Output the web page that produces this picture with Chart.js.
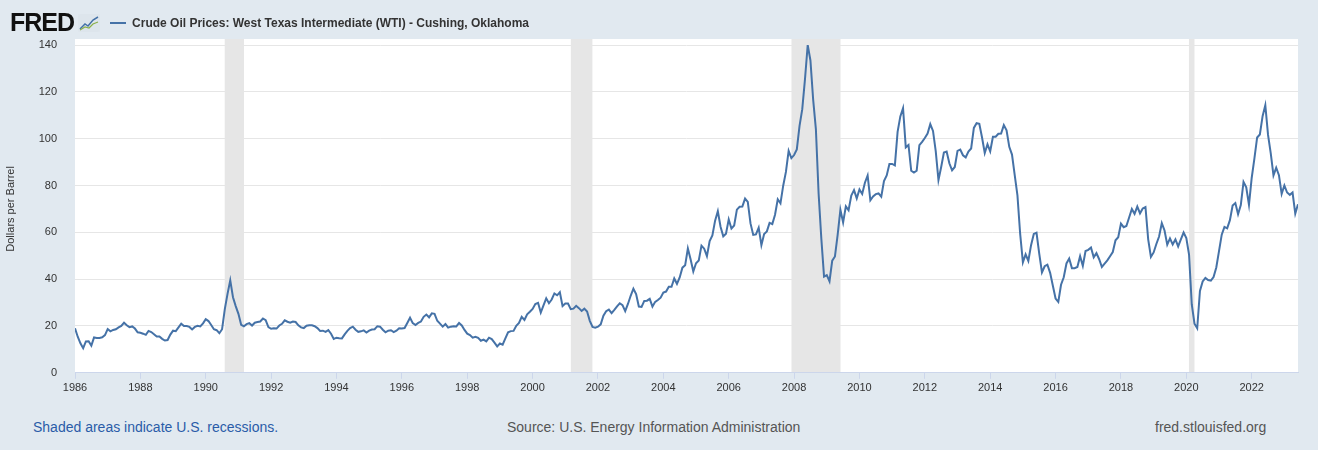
<!DOCTYPE html>
<html><head><meta charset="utf-8">
<script src="https://cdn.jsdelivr.net/npm/chart.js@4"></script>
<style>
body{margin:0;background:#e1e9f0;font-family:"Liberation Sans",Arial,sans-serif;width:1318px;height:450px;overflow:hidden;position:relative}
#wrap{position:absolute;left:0;top:0;width:1318px;height:398px}
.hdr{position:absolute;top:8px;left:10px;display:flex;align-items:center}
.logo{font-weight:900;font-size:25px;color:#111;letter-spacing:-1px;font-family:"Liberation Sans",Arial,sans-serif}
.ico{width:22px;height:18px;margin-left:4px;background:#dfe6ec;border-radius:2px}
.leg{margin-left:10px;font-size:12px;font-weight:bold;color:#333;display:flex;align-items:center}
.leg span{display:inline-block;width:16px;height:2px;background:#4572a7;margin-right:6px}
.ft{position:absolute;top:419px;font-size:14px;color:#555}
</style></head><body>
<div id="wrap"><canvas id="c"></canvas></div>
<div class="hdr"><div class="logo">FRED</div><svg class="ico" viewBox="0 0 22 18"><rect width="22" height="18" fill="#dde5ec"/><polyline points="2,15 7,10 10,12 15,6 20,3" fill="none" stroke="#4572a7" stroke-width="1.5"/><polyline points="2,16 7,13 11,14 15,10 20,8" fill="none" stroke="#8bb04a" stroke-width="1.2"/></svg>
<div class="leg"><span></span>Crude Oil Prices: West Texas Intermediate (WTI) - Cushing, Oklahoma</div></div>
<div class="ft" style="left:33px;color:#2a5ca8">Shaded areas indicate U.S. recessions.</div>
<div class="ft" style="left:507px">Source: U.S. Energy Information Administration</div>
<div class="ft" style="left:1155px">fred.stlouisfed.org</div>
<script>
const startYear = 1986;
const monthly = {
1986:[19.0,15.4,12.6,10.5,13.4,13.5,11.6,15.1,14.9,14.9,15.2,16.1],
1987:[18.7,17.7,18.3,18.6,19.4,20.0,21.4,20.3,19.5,19.8,18.9,17.3],
1988:[17.1,16.7,16.2,17.9,17.4,16.5,15.5,15.5,14.5,13.8,14.0,16.3],
1989:[18.0,17.8,19.4,21.0,20.0,20.0,19.6,18.5,19.6,20.1,19.8,21.1],
1990:[22.9,22.1,20.4,18.6,18.2,16.9,18.6,27.2,33.7,39.5,32.3,28.5],
1991:[25.2,20.5,19.9,20.8,21.2,20.2,21.4,21.7,21.9,23.2,22.5,19.5],
1992:[18.8,19.0,18.9,20.2,20.9,22.4,21.8,21.4,21.9,21.7,20.3,19.4],
1993:[19.1,20.1,20.3,20.3,19.9,19.1,17.9,18.0,17.5,18.2,16.7,14.5],
1994:[15.0,14.8,14.7,16.4,17.9,19.1,19.7,18.4,17.5,17.7,18.1,17.2],
1995:[18.0,18.5,18.6,19.9,19.7,18.4,17.3,18.0,18.2,17.4,18.0,19.0],
1996:[18.9,19.1,21.3,23.5,21.2,20.4,21.3,21.9,23.9,24.9,23.7,25.4],
1997:[25.2,22.2,21.0,19.7,20.8,19.3,19.7,19.9,19.8,21.3,20.2,18.3],
1998:[16.7,16.1,15.0,15.4,14.9,13.7,14.2,13.4,15.0,14.4,12.9,11.3],
1999:[12.5,12.0,14.7,17.3,17.8,17.9,20.1,21.3,23.9,22.6,25.0,26.1],
2000:[27.3,29.4,29.9,25.7,28.8,31.8,29.7,31.3,33.9,33.1,34.4,28.5],
2001:[29.6,29.6,27.2,27.4,28.6,27.6,26.4,27.4,26.2,22.2,19.6,19.3],
2002:[19.7,20.7,24.4,26.3,27.0,25.5,26.9,28.4,29.7,28.9,26.3,29.4],
2003:[32.9,35.9,33.6,28.3,28.1,30.7,30.8,31.6,28.3,30.3,31.1,32.1],
2004:[34.3,34.7,36.7,36.7,40.3,38.0,40.7,44.9,45.9,53.1,48.5,43.3],
2005:[46.8,48.0,54.3,53.0,49.8,56.3,58.7,65.0,69.0,62.4,58.3,59.4],
2006:[65.5,61.6,62.9,69.7,70.9,71.0,74.4,73.0,63.8,58.9,59.1,62.0],
2007:[54.5,59.3,60.4,64.0,63.5,67.5,74.1,72.4,79.9,85.8,94.8,91.7],
2008:[93.0,95.4,105.5,112.6,125.4,140.0,133.4,116.7,104.1,76.6,57.3,41.1],
2009:[41.7,39.1,47.9,49.7,59.0,69.6,64.2,71.1,69.4,75.7,78.0,74.5],
2010:[78.3,76.4,81.2,84.3,73.7,75.3,76.3,76.6,75.2,81.9,84.3,89.2],
2011:[89.2,88.6,102.9,109.5,113.0,96.3,97.3,86.3,85.5,86.3,97.2,98.6],
2012:[100.3,102.2,106.2,103.3,94.7,82.3,87.9,94.1,94.5,89.5,86.5,87.9],
2013:[94.8,95.3,92.9,92.0,94.5,95.8,104.6,106.6,106.3,100.5,93.9,97.6],
2014:[94.6,100.8,100.8,102.1,102.2,105.8,103.6,96.5,93.2,84.4,75.8,59.3],
2015:[47.2,50.6,47.8,54.5,59.3,59.8,50.9,42.9,45.5,46.2,42.7,37.2],
2016:[31.7,30.3,37.6,40.8,46.7,48.8,44.7,44.7,45.2,49.8,45.7,52.0],
2017:[52.5,53.5,49.3,51.1,48.5,45.2,46.6,48.0,49.8,51.6,56.6,57.9],
2018:[63.7,62.2,62.7,66.3,70.0,67.9,71.0,68.1,70.2,70.8,57.0,49.5],
2019:[51.4,55.0,58.2,63.9,60.8,54.7,57.4,54.8,57.0,54.0,57.0,59.9],
2020:[57.5,50.5,29.2,21.0,19.0,35.0,39.0,40.5,39.6,39.4,40.9,45.0],
2021:[52.0,59.0,62.3,61.7,65.2,71.4,72.5,67.7,71.6,81.5,79.2,71.7],
2022:[83.2,91.6,100.5,101.8,109.6,114.3,101.6,93.7,84.3,87.6,84.4,76.4],
2023:[80.0,77.0,76.0,77.0,68.0,72.0]
};
const recessions = [[1990.58,1991.17],[2001.17,2001.83],[2007.92,2009.42],[2020.08,2020.25]];
const yTicks = [0,20,40,60,80,100,120,140];
const xTicks = [1986,1988,1990,1992,1994,1996,1998,2000,2002,2004,2006,2008,2010,2012,2014,2016,2018,2020,2022];

const pts=[];
Object.keys(monthly).forEach(y=>monthly[y].forEach((v,m)=>pts.push({x:+y+m/12,y:v})));
const xMax = pts[pts.length-1].x;

const bg={id:'bg',beforeDraw(ch){const {ctx,chartArea:a,scales:{x}}=ch;ctx.save();ctx.fillStyle='#fff';ctx.fillRect(a.left,a.top-6,a.right-a.left,a.bottom-a.top+6);
ctx.fillStyle='#e6e6e6';recessions.forEach(r=>{const l=x.getPixelForValue(r[0]),rr=x.getPixelForValue(r[1]);ctx.fillRect(l,a.top-6,rr-l,a.bottom-a.top+6);});ctx.restore();}};
Chart.defaults.font.family='"Liberation Sans",Arial,sans-serif';
new Chart(document.getElementById('c'),{type:'line',
data:{datasets:[{data:pts,borderColor:'#4572a7',borderWidth:2,pointRadius:0,tension:0}]},
options:{responsive:true,maintainAspectRatio:false,animation:false,
layout:{padding:{top:45,right:20,left:0,bottom:0}},
plugins:{legend:{display:false},tooltip:{enabled:false}},
scales:{
x:{type:'linear',min:startYear,max:xMax,afterBuildTicks(s){s.ticks=xTicks.map(v=>({value:v}));},
 grid:{display:true,drawOnChartArea:false,tickLength:6,color:'#ccd6eb'},border:{color:'#ccd6eb'},
 ticks:{color:'#333',font:{size:11},autoSkip:false,maxRotation:0,callback:v=>String(v)}},
y:{min:0,max:140,afterBuildTicks(s){s.ticks=yTicks.map(v=>({value:v}));},
 afterFit(s){s.width=75;},
 grid:{color:'#e6e6e6',drawTicks:false},border:{display:false},
 ticks:{color:'#333',font:{size:11},padding:18},
 title:{display:true,text:'Dollars per Barrel',color:'#333',font:{size:11},padding:{bottom:8}}}
}},plugins:[bg]});
</script></body></html>
